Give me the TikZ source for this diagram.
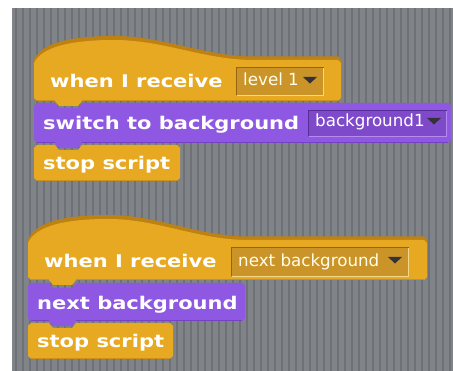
\documentclass[tikz,border=0pt]{standalone}
\usepackage{fontspec}
\newfontfamily\blkfont[FakeStretch=1.2]{DejaVu Sans Bold}
\newfontfamily\ddfont{DejaVu Sans}
\definecolor{bg}{RGB}{128,131,135}
\definecolor{stripe}{RGB}{110,113,117}
\definecolor{ctrl}{RGB}{231,169,33}
\definecolor{ctrldark}{RGB}{190,130,18}
\definecolor{ctrlshade}{RGB}{205,145,25}
\definecolor{ctrldd}{RGB}{203,148,40}
\definecolor{ctrllight}{RGB}{245,215,140}
\definecolor{ctrlinset}{RGB}{150,100,20}
\definecolor{looks}{RGB}{143,88,226}
\definecolor{looksshade}{RGB}{118,66,196}
\definecolor{looksdd}{RGB}{126,74,202}
\definecolor{lookslight}{RGB}{180,140,240}
\definecolor{looksinset}{RGB}{85,45,150}
\definecolor{arrowc}{RGB}{50,50,55}
\newcommand\stackshape[4]{(#1,#3+3) -- (#1+3,#3) -- (#1+21,#3) -- (#1+25,#3+5) -- (#1+44,#3+5) -- (#1+48,#3) -- (#2-3,#3) -- (#2,#3+3) -- (#2,#4-3) -- (#2-3,#4) -- (#1+48,#4) -- (#1+44,#4+5) -- (#1+25,#4+5) -- (#1+21,#4) -- (#1+3,#4) -- (#1,#4-3) -- cycle}
\newcommand\capshape[4]{(#1,#3+3) -- (#1+3,#3) -- (#1+21,#3) -- (#1+25,#3+5) -- (#1+44,#3+5) -- (#1+48,#3) -- (#2-3,#3) -- (#2,#3+3) -- (#2,#4-3) -- (#2-3,#4) -- (#1+3,#4) -- (#1,#4-3) -- cycle}
\newcommand\hatshape[5]{(#1,#4+3) .. controls (#1+8,#3+6) and (#1+40,#3) .. (#1+80,#3) .. controls (#1+130,#3) and (#1+170,#4) .. (#1+220,#4) -- (#2-3,#4) -- (#2,#4+3) -- (#2,#5-3) -- (#2-3,#5) -- (#1+48,#5) -- (#1+44,#5+5) -- (#1+25,#5+5) -- (#1+21,#5) -- (#1+3,#5) -- (#1,#5-3) -- cycle}
\newcommand\ddbox[5]{%
  \fill[#5] (#1,#3) rectangle (#2,#4);
  \draw[line width=1pt,ddlight] (#1+0.5,#4-0.5) -- (#2-0.5,#4-0.5) -- (#2-0.5,#3+0.5);
  \draw[line width=1.2pt,ddinset] (#1+0.6,#4-0.5) -- (#1+0.6,#3+0.6) -- (#2-0.5,#3+0.6);
}
\newcommand\ddarrow[2]{\fill[arrowc] (#1,#2) -- (#1+14,#2) -- (#1+7,#2+6.5) -- cycle;}
\begin{document}
\begin{tikzpicture}[x=1pt,y=-1pt,
  blktext/.style={anchor=base west,inner sep=0pt,text=white,font=\fontsize{17.5}{19}\selectfont\blkfont},
  ddtext/.style={anchor=base west,inner sep=0pt,font=\fontsize{16.7}{18}\selectfont\ddfont},
  ctrlfill/.style={fill=ctrl},
  looksfill/.style={fill=looks}]
\useasboundingbox (0,0) rectangle (453,371);
\fill[white] (0,0) rectangle (453,371);
\fill[bg] (12,8) rectangle (453,371);
\foreach \x in {15,22,...,453} \fill[stripe] (\x,8) rectangle (\x+1.6,371);

% ---------- script 1 ----------
\fill[ctrldark] \hatshape{34}{341}{36}{56.5}{101};
\fill[ctrl] \hatshape{34}{341}{40}{60}{101};
\draw[ctrlshade,line width=1.2pt] (37,100.4) -- (55,100.4) (82,100.4) -- (338,100.4);
\colorlet{ddlight}{ctrllight}\colorlet{ddinset}{ctrlinset}
\ddbox{236}{324}{67}{96}{ctrldd}
\ddarrow{303}{77}
\node[blktext] (r1) at (50,88) {when I receive};
\node[ddtext,text=white!92!yellow] (d1) at (243,86) {level 1};

\fill[looks] \stackshape{34}{451}{103}{143};
\draw[looksshade,line width=1.2pt] (37,142.4) -- (55,142.4) (82,142.4) -- (448,142.4);
\colorlet{ddlight}{lookslight}\colorlet{ddinset}{looksinset}
\ddbox{308}{447}{110}{137}{looksdd}
\ddarrow{427}{118}
\node[blktext] (s1) at (43,130) {switch to background};
\node[ddtext,text=white] (d2) at (315,127) {background1};

\fill[ctrl] \capshape{34}{180}{145}{181};
\draw[ctrlshade,line width=1.2pt] (37,180.4) -- (177,180.4);
\node[blktext] (t1) at (43,170) {stop script};

% ---------- script 2 ----------
\fill[ctrldark] \hatshape{28}{427}{215}{236.5}{280};
\fill[ctrl] \hatshape{28}{427}{219}{240}{280};
\draw[ctrlshade,line width=1.2pt] (31,279.4) -- (49,279.4) (76,279.4) -- (424,279.4);
\colorlet{ddlight}{ctrllight}\colorlet{ddinset}{ctrlinset}
\ddbox{231}{409}{247}{277}{ctrldd}
\ddarrow{388}{257}
\node[blktext] (r2) at (44,268) {when I receive};
\node[ddtext,text=white!92!yellow] (d3) at (238,267) {next background};

\fill[looks] \stackshape{28}{245}{283}{321};
\draw[looksshade,line width=1.2pt] (31,320.4) -- (49,320.4) (76,320.4) -- (242,320.4);
\node[blktext] (n2) at (37,310) {next background};

\fill[ctrl] \capshape{28}{173}{323}{359};
\draw[ctrlshade,line width=1.2pt] (31,358.4) -- (170,358.4);
\node[blktext] (t2) at (37,348) {stop script};
\end{tikzpicture}
\end{document}
